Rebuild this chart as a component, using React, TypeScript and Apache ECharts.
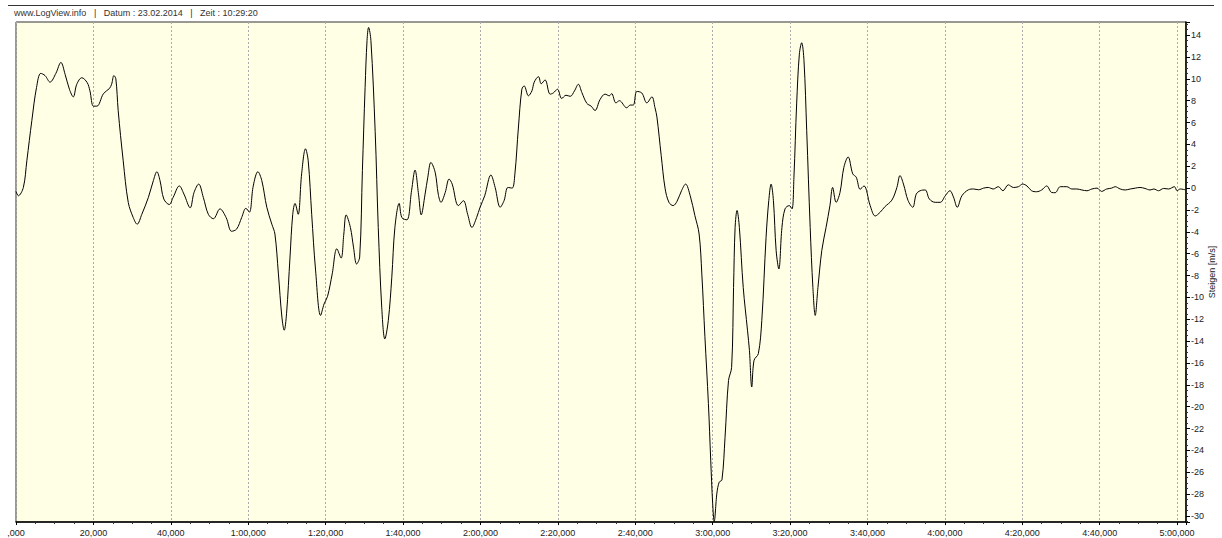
import React, { useEffect, useRef } from "react";
import * as echarts from "echarts";

// time in seconds
const times = [
  0.0, 0.6, 1.9, 2.8, 4.1, 5.3, 6.4, 7.5, 8.8, 10.3,
  11.6, 12.7, 13.8, 14.8, 15.7, 17.0, 18.4, 19.1, 20.0, 20.9,
  22.6, 24.1, 24.7, 25.3, 25.8, 26.4, 27.7, 29.0, 30.3, 31.3,
  32.5, 34.2, 35.5, 36.4, 37.2, 38.2, 39.6, 40.6, 42.2, 43.4,
  45.0, 46.0, 47.2, 48.4, 49.7, 51.0, 52.7, 54.3, 55.7, 57.0,
  58.3, 59.4, 60.3, 61.3, 62.5, 63.5, 64.8, 66.1, 66.9, 67.8,
  68.7, 69.3, 69.9, 70.8, 71.5, 72.1, 72.9, 73.8, 74.8, 75.5,
  76.4, 77.4, 78.7, 79.6, 80.5, 81.7, 82.9, 84.0, 84.7, 85.3,
  86.4, 87.2, 88.0, 88.8, 89.5, 90.2, 90.7, 91.1, 91.7, 92.8,
  93.6, 94.5, 95.3, 96.2, 97.1, 97.9, 99.0, 99.7, 101.0, 102.2,
  103.1, 104.0, 104.7, 105.7, 106.4, 107.2, 108.3, 109.1, 109.8, 110.9,
  111.9, 112.7, 114.3, 115.6, 116.7, 117.8, 119.0, 119.9, 121.1, 122.7,
  123.8, 125.1, 126.1, 127.1, 128.2, 128.9, 129.8, 130.7, 131.3, 132.4,
  133.3, 133.9, 135.0, 135.7, 136.7, 138.0, 138.8, 139.9, 141.0, 142.1,
  143.2, 144.3, 145.3, 146.2, 147.5, 148.6, 149.6, 150.9, 152.2, 153.3,
  153.9, 155.0, 155.9, 157.8, 158.7, 159.5, 160.4, 161.7, 163.0, 164.3,
  165.1, 165.6, 166.7, 167.7, 168.7, 169.8, 170.8, 172.0, 173.0, 174.2,
  175.4, 176.5, 177.2, 178.0, 178.9, 179.5, 180.0, 180.4, 181.1, 181.7,
  182.4, 183.2, 184.1, 184.9, 185.4, 185.8, 186.3, 186.9, 187.9, 189.0,
  189.5, 190.1, 190.7, 191.8, 192.7, 193.8, 194.5, 195.1, 195.7, 196.4,
  197.1, 197.9, 198.7, 199.8, 200.5, 201.0, 201.7, 202.4, 203.0, 203.6,
  204.3, 205.2, 205.9, 206.5, 207.2, 208.2, 209.3, 210.3, 211.0, 211.9,
  212.9, 213.9, 215.0, 216.2, 217.1, 218.1, 219.1, 220.7, 222.0, 223.3,
  224.5, 226.3, 227.6, 228.4, 229.3, 230.5, 231.7, 232.6, 233.6, 234.9,
  236.0, 237.5, 238.8, 240.1, 241.3, 242.2, 243.2, 244.4, 246.1, 247.4,
  248.7, 250.0, 251.2, 252.5, 253.8, 255.0, 256.4, 257.7, 259.0, 260.1,
  261.2, 262.4, 263.7, 265.0, 266.3, 267.6, 268.5, 269.8, 271.5, 272.8,
  274.1, 275.4, 276.7, 278.0, 279.3, 280.5, 281.8, 283.1, 284.0, 285.3,
  286.6, 287.9, 289.2, 290.4, 291.7, 293.0, 294.0, 295.2, 296.5, 297.8,
  299.3, 300.0, 300.8, 302.1,
];

// climb rate in m/s
const climb = [
  -0.3, -0.7, 0.06, 2.5, 6.2, 9.2, 10.5, 10.3, 9.7, 10.5,
  11.5, 10.4, 9.05, 8.35, 9.5, 10.1, 9.65, 8.9, 7.5, 7.5,
  8.65, 9.1, 9.5, 10.3, 10.0, 7.1, 2.5, -1.3, -2.7, -3.3,
  -2.4, -0.85, 0.7, 1.5, 0.7, -1.0, -1.5, -0.85, 0.2, -0.55,
  -1.8, -0.4, 0.37, -0.85, -2.4, -2.8, -1.9, -2.7, -3.95, -3.75,
  -2.7, -1.85, -2.2, 0.2, 1.5, 0.7, -1.75, -3.3, -4.2, -7.85,
  -11.8, -13.0, -11.5, -6.3, -2.4, -1.4, -2.4, 1.3, 3.6, 2.5,
  -2.4, -7.5, -11.65, -10.6, -9.9, -7.85, -5.55, -6.4, -4.2, -2.45,
  -3.6, -5.4, -6.95, -6.3, 1.6, 9.2, 13.5, 14.7, 13.5, 5.2,
  -3.6, -10.9, -13.8, -12.1, -8.15, -3.6, -1.4, -2.7, -2.9, -0.24,
  1.65, -0.55, -2.45, -0.55, 1.0, 2.35, 1.45, -0.55, -1.3, -0.4,
  0.83, 0.37, -1.6, -1.15, -2.4, -3.6, -2.7, -1.75, -0.7, 1.2,
  0.06, -1.75, -1.15, 0.06, 0, 1.3, 5.5, 9.05, 9.35, 8.45,
  8.9, 9.7, 10.2, 9.55, 9.9, 8.6, 8.7, 9.05, 8.2, 8.5,
  8.4, 8.9, 9.5, 8.75, 7.75, 7.5, 7.1, 8.1, 8.6, 8.45,
  8.65, 7.8, 8.0, 7.35, 7.6, 7.6, 8.85, 8.7, 7.8, 8.35,
  7.35, 6.5, 3.0, 0.0, -1.3, -1.6, -1.2, -0.2, 0.37, -0.7,
  -2.5, -4.2, -7.85, -13.6, -19.7, -24.9, -28.85, -30.5, -27.9, -26.9,
  -26.7, -22.8, -17.6, -16.4, -9.1, -3.6, -2.05, -3.6, -9.1, -13.0,
  -14.85, -18.2, -15.75, -15.15, -12.1, -4.5, -1.15, 0.37, -1.15, -5.7,
  -7.4, -3.6, -1.9, -1.6, -1.9, 1.0, 7.7, 12.25, 13.3, 11.65,
  5.25, -3.6, -9.1, -11.65, -9.1, -5.7, -3.6, -1.6, 0.06, -1.3,
  -0.4, 1.9, 2.85, 1.3, 1.0, -0.1, 0.2, -1.6, -2.55, -2.2,
  -1.7, -1.1, 0.06, 1.15, 0.37, -1.15, -1.75, -0.55, -0.24, -0.17,
  -1.0, -1.3, -1.3, -0.7, -0.24, -0.8, -1.75, -0.7, -0.15, -0.08,
  -0.15, 0.0, 0.06, -0.08, 0.13, -0.24, 0.3, 0.06, 0.13, 0.37,
  0.2, -0.24, -0.33, -0.17, 0.2, -0.4, -0.42, 0.13, 0.13, -0.08,
  -0.08, -0.17, -0.24, -0.08, 0.0, -0.3, -0.08, 0, 0.13, -0.08,
  -0.17, -0.08, 0, 0.06, -0.03, -0.17, -0.08, -0.24, -0.03, -0.08,
  0.13, -0.24, -0.08, -0.15,
];

const headerText =
  "www.LogView.info\u00a0\u00a0\u00a0|\u00a0\u00a0\u00a0Datum : 23.02.2014\u00a0\u00a0\u00a0|\u00a0\u00a0\u00a0Zeit : 10:29:20";
const yAxisName = "Steigen [m/s]";

const X_MIN = 0;
const X_MAX = 302.3;
const Y_MIN = -30.55;
const Y_MAX = 15.2;

const FONT = "'Liberation Sans', Arial, sans-serif";

function formatTime(v: number): string {
  const r = Math.round(v / 20);
  if (Math.abs(v / 20 - r) > 1e-6) return "";
  const total = r * 20;
  const m = Math.floor(total / 60);
  const s = total - m * 60;
  if (m === 0) return (s === 0 ? "" : String(s)) + ",000";
  return m + ":" + String(s).padStart(2, "0") + ",000";
}

function formatY(v: number): string {
  if (Math.abs(v - Math.round(v)) > 1e-6) return "";
  return String(Math.round(v));
}

export default function App() {
  const ref = useRef<HTMLDivElement>(null);

  useEffect(() => {
    document.body.style.margin = "0";
    if (!ref.current) return;
    const chart = echarts.init(ref.current, undefined, { renderer: "svg" });
    const data = times.map((t, i) => [t, climb[i]]);
    chart.setOption({
      animation: false,
      backgroundColor: "#ffffff",
      grid: {
        left: 16,
        right: 36,
        top: 22,
        bottom: 16,
        outerBoundsMode: "none",
        containLabel: false,
        show: true,
        backgroundColor: "#FFFFE6",
        borderColor: "#333333",
        borderWidth: 1,
      },
      graphic: [
        {
          type: "line",
          shape: { x1: 8, y1: 5.5, x2: 1214, y2: 5.5 },
          style: { stroke: "#333333", lineWidth: 1 },
          silent: true,
        },
        {
          type: "text",
          x: 14,
          y: 13,
          style: {
            text: headerText,
            fontSize: 9,
            fontFamily: FONT,
            fill: "#333333",
            verticalAlign: "middle",
          },
          silent: true,
        },
        {
          type: "text",
          x: 1212,
          y: 272,
          rotation: Math.PI / 2,
          style: {
            text: yAxisName,
            fontSize: 9,
            fontFamily: FONT,
            fill: "#222222",
            align: "center",
            verticalAlign: "middle",
          },
          silent: true,
        },
      ],
      xAxis: {
        type: "value",
        min: X_MIN,
        max: X_MAX,
        interval: 20,
        position: "bottom",
        axisLine: { show: true, onZero: false, lineStyle: { color: "#000000", width: 1.5 } },
        axisTick: { show: true, length: 3, lineStyle: { color: "#000000" } },
        minorTick: { show: true, splitNumber: 4, length: 2, lineStyle: { color: "#333333" } },
        splitLine: { show: true, lineStyle: { color: "#aaaaaa", type: [2, 2], width: 1 } },
        axisLabel: {
          formatter: formatTime,
          fontSize: 9,
          fontFamily: FONT,
          color: "#222222",
          margin: 6,
          showMaxLabel: false,
        },
      },
      yAxis: {
        type: "value",
        position: "right",
        min: Y_MIN,
        max: Y_MAX,
        splitNumber: 22,
        axisLine: { show: true, onZero: false, lineStyle: { color: "#000000", width: 1.5 } },
        axisTick: { show: true, length: 4, lineStyle: { color: "#000000" } },
        minorTick: { show: true, splitNumber: 4, length: 2, lineStyle: { color: "#333333" } },
        splitLine: { show: false },
        axisLabel: {
          formatter: formatY,
          fontSize: 9,
          fontFamily: FONT,
          color: "#222222",
          margin: 5,
        },
      },
      series: [
        {
          type: "line",
          data,
          showSymbol: false,
          smooth: 0.35,
          lineStyle: { color: "#000000", width: 1 },
          silent: true,
        },
      ],
    });
    return () => chart.dispose();
  }, []);

  return (
    <div
      ref={ref}
      style={{ position: "absolute", left: 0, top: 0, width: 1222, height: 538 }}
    />
  );
}
